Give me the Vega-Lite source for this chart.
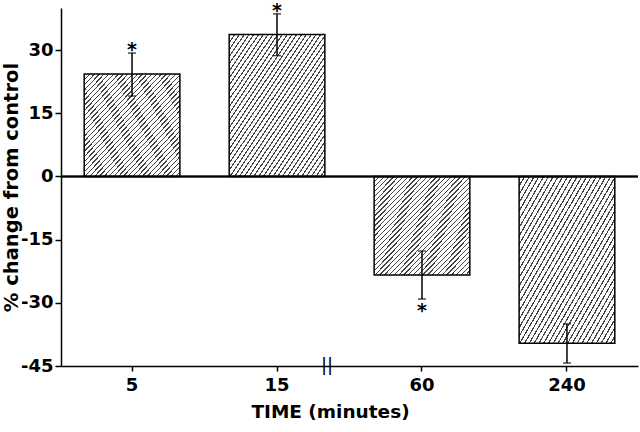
{
  "$schema": "https://vega.github.io/schema/vega-lite/v6.json",
  "width": 577,
  "height": 358,
  "autosize": {"type": "none"},
  "padding": {"left": 61, "top": 8, "right": 2, "bottom": 66},
  "background": "white",
  "config": {
    "view": {"stroke": null},
    "font": "DejaVu Sans",
    "axis": {"domainColor": "black", "domainWidth": 1.5, "tickColor": "black", "tickWidth": 1.5, "labelColor": "black", "titleColor": "black", "labelFont": "DejaVu Sans", "titleFont": "DejaVu Sans", "labelFontWeight": "bold", "titleFontWeight": "bold", "grid": false}
  },
  "data": {"values": [
    {"time": "5", "value": 24.3, "lo": 19.1, "hi": 29.3, "sig": true},
    {"time": "15", "value": 33.7, "lo": 28.7, "hi": 38.6, "sig": true},
    {"time": "60", "value": -23.4, "lo": -29.1, "hi": -17.7, "sig": true},
    {"time": "240", "value": -39.6, "lo": -44.3, "hi": -35.0, "sig": false}
  ]},
  "layer": [
    {
      "mark": {"type": "bar", "stroke": "black", "strokeWidth": 1.5,
        "fill": {"gradient": "linear", "x1": 0, "y1": 0, "x2": 1, "y2": 1, "stops": [
          {"offset":0,"color":"#444"},{"offset":0.007,"color":"#444"},{"offset":0.007,"color":"#fff"},{"offset":0.025,"color":"#fff"},
          {"offset":0.025,"color":"#444"},{"offset":0.032,"color":"#444"},{"offset":0.032,"color":"#fff"},{"offset":0.05,"color":"#fff"},
          {"offset":0.05,"color":"#444"},{"offset":0.057,"color":"#444"},{"offset":0.057,"color":"#fff"},{"offset":0.075,"color":"#fff"},
          {"offset":0.075,"color":"#444"},{"offset":0.082,"color":"#444"},{"offset":0.082,"color":"#fff"},{"offset":0.1,"color":"#fff"},
          {"offset":0.1,"color":"#444"},{"offset":0.107,"color":"#444"},{"offset":0.107,"color":"#fff"},{"offset":0.125,"color":"#fff"},
          {"offset":0.125,"color":"#444"},{"offset":0.132,"color":"#444"},{"offset":0.132,"color":"#fff"},{"offset":0.15,"color":"#fff"},
          {"offset":0.15,"color":"#444"},{"offset":0.157,"color":"#444"},{"offset":0.157,"color":"#fff"},{"offset":0.175,"color":"#fff"},
          {"offset":0.175,"color":"#444"},{"offset":0.182,"color":"#444"},{"offset":0.182,"color":"#fff"},{"offset":0.2,"color":"#fff"},
          {"offset":0.2,"color":"#444"},{"offset":0.207,"color":"#444"},{"offset":0.207,"color":"#fff"},{"offset":0.225,"color":"#fff"},
          {"offset":0.225,"color":"#444"},{"offset":0.232,"color":"#444"},{"offset":0.232,"color":"#fff"},{"offset":0.25,"color":"#fff"},
          {"offset":0.25,"color":"#444"},{"offset":0.257,"color":"#444"},{"offset":0.257,"color":"#fff"},{"offset":0.275,"color":"#fff"},
          {"offset":0.275,"color":"#444"},{"offset":0.282,"color":"#444"},{"offset":0.282,"color":"#fff"},{"offset":0.3,"color":"#fff"},
          {"offset":0.3,"color":"#444"},{"offset":0.307,"color":"#444"},{"offset":0.307,"color":"#fff"},{"offset":0.325,"color":"#fff"},
          {"offset":0.325,"color":"#444"},{"offset":0.332,"color":"#444"},{"offset":0.332,"color":"#fff"},{"offset":0.35,"color":"#fff"},
          {"offset":0.35,"color":"#444"},{"offset":0.357,"color":"#444"},{"offset":0.357,"color":"#fff"},{"offset":0.375,"color":"#fff"},
          {"offset":0.375,"color":"#444"},{"offset":0.382,"color":"#444"},{"offset":0.382,"color":"#fff"},{"offset":0.4,"color":"#fff"},
          {"offset":0.4,"color":"#444"},{"offset":0.407,"color":"#444"},{"offset":0.407,"color":"#fff"},{"offset":0.425,"color":"#fff"},
          {"offset":0.425,"color":"#444"},{"offset":0.432,"color":"#444"},{"offset":0.432,"color":"#fff"},{"offset":0.45,"color":"#fff"},
          {"offset":0.45,"color":"#444"},{"offset":0.457,"color":"#444"},{"offset":0.457,"color":"#fff"},{"offset":0.475,"color":"#fff"},
          {"offset":0.475,"color":"#444"},{"offset":0.482,"color":"#444"},{"offset":0.482,"color":"#fff"},{"offset":0.5,"color":"#fff"},
          {"offset":0.5,"color":"#444"},{"offset":0.507,"color":"#444"},{"offset":0.507,"color":"#fff"},{"offset":0.525,"color":"#fff"},
          {"offset":0.525,"color":"#444"},{"offset":0.532,"color":"#444"},{"offset":0.532,"color":"#fff"},{"offset":0.55,"color":"#fff"},
          {"offset":0.55,"color":"#444"},{"offset":0.557,"color":"#444"},{"offset":0.557,"color":"#fff"},{"offset":0.575,"color":"#fff"},
          {"offset":0.575,"color":"#444"},{"offset":0.582,"color":"#444"},{"offset":0.582,"color":"#fff"},{"offset":0.6,"color":"#fff"},
          {"offset":0.6,"color":"#444"},{"offset":0.607,"color":"#444"},{"offset":0.607,"color":"#fff"},{"offset":0.625,"color":"#fff"},
          {"offset":0.625,"color":"#444"},{"offset":0.632,"color":"#444"},{"offset":0.632,"color":"#fff"},{"offset":0.65,"color":"#fff"},
          {"offset":0.65,"color":"#444"},{"offset":0.657,"color":"#444"},{"offset":0.657,"color":"#fff"},{"offset":0.675,"color":"#fff"},
          {"offset":0.675,"color":"#444"},{"offset":0.682,"color":"#444"},{"offset":0.682,"color":"#fff"},{"offset":0.7,"color":"#fff"},
          {"offset":0.7,"color":"#444"},{"offset":0.707,"color":"#444"},{"offset":0.707,"color":"#fff"},{"offset":0.725,"color":"#fff"},
          {"offset":0.725,"color":"#444"},{"offset":0.732,"color":"#444"},{"offset":0.732,"color":"#fff"},{"offset":0.75,"color":"#fff"},
          {"offset":0.75,"color":"#444"},{"offset":0.757,"color":"#444"},{"offset":0.757,"color":"#fff"},{"offset":0.775,"color":"#fff"},
          {"offset":0.775,"color":"#444"},{"offset":0.782,"color":"#444"},{"offset":0.782,"color":"#fff"},{"offset":0.8,"color":"#fff"},
          {"offset":0.8,"color":"#444"},{"offset":0.807,"color":"#444"},{"offset":0.807,"color":"#fff"},{"offset":0.825,"color":"#fff"},
          {"offset":0.825,"color":"#444"},{"offset":0.832,"color":"#444"},{"offset":0.832,"color":"#fff"},{"offset":0.85,"color":"#fff"},
          {"offset":0.85,"color":"#444"},{"offset":0.857,"color":"#444"},{"offset":0.857,"color":"#fff"},{"offset":0.875,"color":"#fff"},
          {"offset":0.875,"color":"#444"},{"offset":0.882,"color":"#444"},{"offset":0.882,"color":"#fff"},{"offset":0.9,"color":"#fff"},
          {"offset":0.9,"color":"#444"},{"offset":0.907,"color":"#444"},{"offset":0.907,"color":"#fff"},{"offset":0.925,"color":"#fff"},
          {"offset":0.925,"color":"#444"},{"offset":0.932,"color":"#444"},{"offset":0.932,"color":"#fff"},{"offset":0.95,"color":"#fff"},
          {"offset":0.95,"color":"#444"},{"offset":0.957,"color":"#444"},{"offset":0.957,"color":"#fff"},{"offset":0.975,"color":"#fff"},
          {"offset":0.975,"color":"#444"},{"offset":0.982,"color":"#444"},{"offset":0.982,"color":"#fff"},{"offset":1,"color":"#fff"}
        ]}
      },
      "encoding": {
        "x": {"field": "time", "type": "nominal", "sort": ["5", "15", "60", "240"],
          "scale": {"paddingInner": 0.34, "paddingOuter": 0.16},
          "axis": {"title": "TIME  (minutes)", "titleFontSize": 18.5, "titleX": 269, "titlePadding": 8, "labelFontSize": 18, "labelAngle": 0, "tickSize": 5, "labelPadding": 5}},
        "y": {"field": "value", "type": "quantitative", "title": "% change from control",
          "scale": {"domain": [-45, 40], "nice": false, "zero": false},
          "axis": {"titleFontSize": 19.5, "titleX": -44, "titleBaseline": "alphabetic", "values": [-45, -30, -15, 0, 15, 30], "labelExpr": "'' + datum.value", "labelFontSize": 18, "tickSize": 6, "labelPadding": 2}}
      }
    },
    {
      "mark": {"type": "rule", "color": "black", "strokeWidth": 1.5},
      "encoding": {"y": {"datum": 0, "type": "quantitative", "title": "% change from control"}}
    },
    {
      "mark": {"type": "rule", "color": "black", "strokeWidth": 1.5},
      "encoding": {
        "x": {"field": "time", "type": "nominal", "sort": ["5", "15", "60", "240"]},
        "y": {"field": "lo", "type": "quantitative", "title": "% change from control"},
        "y2": {"field": "hi"}
      }
    },
    {
      "mark": {"type": "tick", "color": "black", "size": 8, "thickness": 1.5, "orient": "horizontal"},
      "encoding": {
        "x": {"field": "time", "type": "nominal", "sort": ["5", "15", "60", "240"]},
        "y": {"field": "lo", "type": "quantitative", "title": "% change from control"}
      }
    },
    {
      "mark": {"type": "tick", "color": "black", "size": 8, "thickness": 1.5, "orient": "horizontal"},
      "encoding": {
        "x": {"field": "time", "type": "nominal", "sort": ["5", "15", "60", "240"]},
        "y": {"field": "hi", "type": "quantitative", "title": "% change from control"}
      }
    },
    {
      "transform": [{"filter": "datum.sig && datum.value > 0"}],
      "mark": {"type": "text", "text": "*", "fontSize": 19, "fontWeight": "bold", "baseline": "alphabetic", "dy": 3, "color": "black"},
      "encoding": {
        "x": {"field": "time", "type": "nominal", "sort": ["5", "15", "60", "240"]},
        "y": {"field": "hi", "type": "quantitative", "title": "% change from control"}
      }
    },
    {
      "transform": [{"filter": "datum.sig && datum.value < 0"}],
      "mark": {"type": "text", "text": "*", "fontSize": 19, "fontWeight": "bold", "baseline": "alphabetic", "dy": 18, "color": "black"},
      "encoding": {
        "x": {"field": "time", "type": "nominal", "sort": ["5", "15", "60", "240"]},
        "y": {"field": "lo", "type": "quantitative", "title": "% change from control"}
      }
    },
    {
      "transform": [{"filter": "datum.time == '15'"}],
      "mark": {"type": "text", "text": "||", "font": "DejaVu Sans", "fontSize": 18, "fontWeight": "normal", "baseline": "middle", "dx": 50, "color": "black"},
      "encoding": {
        "x": {"field": "time", "type": "nominal", "sort": ["5", "15", "60", "240"]},
        "y": {"datum": -45, "type": "quantitative", "title": "% change from control"}
      }
    }
  ]
}
